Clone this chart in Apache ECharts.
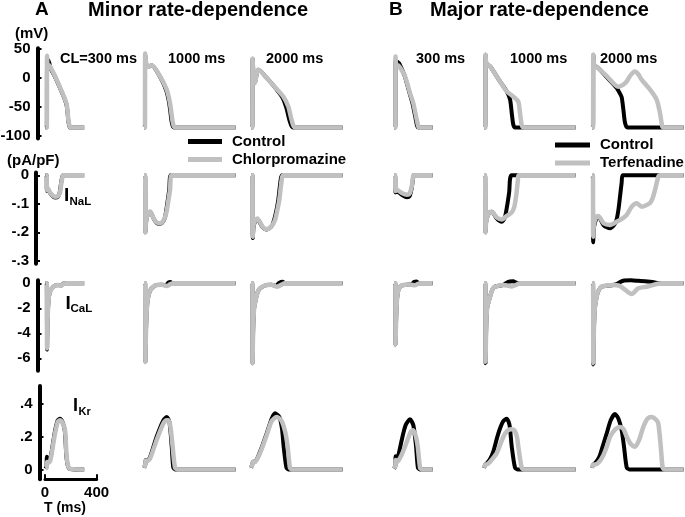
<!DOCTYPE html>
<html>
<head>
<meta charset="utf-8">
<title>Rate-dependence of drug effects</title>
<script src="https://cdn.jsdelivr.net/npm/echarts@6/dist/echarts.min.js"></script>
<style>
  html, body { margin: 0; padding: 0; background: #fff; }
  #chart { width: 685px; height: 517px; }
</style>
</head>
<body>
<div id="chart"></div>
<script>
// ---- data: [time (ms), value] ----
// action potential (mV)
const apA300Ctl = [[0,-85],[10,-85],[12,28],[20,31],[30,25],[40,16],[74,2],[126,-24],[150,-37],[164,-47],[172,-62],[177,-74],[184,-82],[190,-85],[300,-85]];
const apA300Cpz = [[0,-85],[10,-85],[12,38],[17,18],[27,22],[35,20],[74,3],[126,-23],[150,-36],[164,-45],[172,-60],[177,-72],[184,-80],[192,-85],[300,-85]];
const apA1000Ctl = [[0,-85],[7,-85],[9,40],[20,22],[39,20],[60,22],[124,2],[172,-21],[191,-38],[203,-55],[215,-76],[232,-85],[710,-85]];
const apA1000Cpz = [[0,-85],[7,-85],[9,42],[20,22],[39,20],[60,22],[124,3],[176,-20],[196,-37],[209,-54],[222,-75],[240,-85],[710,-85]];
const apA2000Ctl = [[0,-85],[10,-85],[12,33],[20,5],[31,-8],[45,8],[57,14],[122,0],[199,-20],[245,-34],[275,-52],[300,-74],[325,-85],[710,-85]];
const apA2000Cpz = [[0,-85],[10,-85],[12,33],[20,5],[31,-8],[45,8],[57,14],[122,0],[199,-19],[250,-32],[289,-49],[315,-72],[341,-85],[710,-85]];
const apB300Ctl = [[0,-85],[10,-85],[12,30],[25,28],[40,25],[55,18],[85,2],[122,-27],[145,-45],[165,-67],[180,-83],[188,-85],[300,-85]];
const apB300Tfd = [[0,-85],[10,-85],[12,37],[18,20],[30,22],[47,18],[85,3],[124,-26],[149,-43],[171,-66],[188,-83],[195,-85],[300,-85]];
const apB1000Ctl = [[0,-85],[10,-85],[12,40],[20,24],[47,20],[124,-6],[176,-23],[202,-37],[215,-60],[227,-80],[240,-85],[710,-85]];
const apB1000Tfd = [[0,-85],[10,-85],[12,40],[20,24],[47,20],[124,-6],[176,-23],[227,-32],[266,-41],[279,-60],[292,-80],[305,-85],[710,-85]];
const apB2000Ctl = [[0,-85],[8,-85],[10,40],[18,22],[49,17],[120,0],[170,-12],[191,-17],[215,-26],[230,-33],[243,-54],[256,-77],[274,-85],[710,-85]];
const apB2000Tfd = [[0,-85],[8,-85],[10,40],[18,22],[49,17],[120,2],[170,-10],[204,-15],[240,-12],[269,-6],[300,5],[333,11],[360,6],[385,-3],[450,-20],[501,-37],[527,-60],[540,-78],[550,-85],[710,-85]];

// late sodium current INaL (pA/pF)
const inalA300Ctl = [[0,0],[9,0],[11,-0.055],[18,-0.048],[35,-0.062],[74,-0.078],[95,-0.076],[110,-0.06],[120,-0.03],[130,-0.005],[138,0],[300,0]];
const inalA300Cpz = [[0,0],[9,0],[11,-0.052],[18,-0.045],[35,-0.06],[74,-0.075],[95,-0.074],[112,-0.06],[122,-0.03],[132,-0.005],[140,0],[300,0]];
const inalA1000Ctl = [[0,0],[9,0],[11,-0.2],[17,-0.16],[35,-0.13],[47,-0.128],[80,-0.156],[111,-0.17],[137,-0.168],[160,-0.152],[172,-0.125],[185,-0.085],[196,-0.05],[208,0],[710,0]];
const inalA1000Cpz = [[0,0],[9,0],[11,-0.2],[17,-0.16],[35,-0.13],[47,-0.128],[80,-0.155],[111,-0.168],[137,-0.166],[160,-0.15],[176,-0.125],[190,-0.085],[202,-0.05],[215,0],[710,0]];
const inalA2000Ctl = [[0,0],[12,0],[14,-0.22],[22,-0.175],[49,-0.153],[90,-0.182],[122,-0.19],[160,-0.178],[180,-0.155],[198,-0.12],[212,-0.085],[230,-0.016],[242,0],[710,0]];
const inalA2000Cpz = [[0,0],[12,0],[14,-0.215],[22,-0.17],[49,-0.151],[90,-0.18],[122,-0.189],[160,-0.178],[186,-0.157],[205,-0.12],[219,-0.087],[238,-0.016],[250,0],[710,0]];
const inalB300Ctl = [[0,0],[9,0],[11,-0.06],[18,-0.055],[60,-0.068],[100,-0.077],[120,-0.074],[137,-0.045],[148,-0.01],[154,0],[300,0]];
const inalB300Tfd = [[0,0],[9,0],[11,-0.055],[18,-0.05],[60,-0.062],[100,-0.068],[120,-0.065],[137,-0.04],[146,-0.01],[152,0],[300,0]];
const inalB1000Ctl = [[0,0],[9,0],[11,-0.2],[18,-0.16],[40,-0.13],[60,-0.128],[100,-0.152],[137,-0.163],[160,-0.15],[178,-0.11],[195,-0.06],[215,0],[710,0]];
const inalB1000Tfd = [[0,0],[9,0],[11,-0.2],[18,-0.16],[40,-0.13],[60,-0.128],[100,-0.148],[137,-0.155],[170,-0.145],[215,-0.13],[235,-0.11],[250,-0.07],[262,-0.02],[268,0],[710,0]];
const inalB2000Ctl = [[0,0],[7,0],[9,-0.235],[16,-0.18],[35,-0.15],[49,-0.145],[90,-0.175],[140,-0.186],[175,-0.172],[191,-0.155],[205,-0.12],[217,-0.075],[230,-0.025],[238,0],[710,0]];
const inalB2000Tfd = [[0,0],[7,0],[9,-0.215],[16,-0.17],[35,-0.145],[49,-0.143],[90,-0.168],[140,-0.174],[191,-0.163],[240,-0.15],[269,-0.139],[300,-0.115],[320,-0.104],[346,-0.098],[385,-0.11],[420,-0.105],[450,-0.097],[470,-0.08],[488,-0.052],[514,-0.005],[527,0],[710,0]];

// L-type calcium current ICaL (pA/pF)
const icalA300Ctl = [[0,0],[10,0],[12,-5.3],[16,-3],[24,-1.3],[35,-0.67],[60,-0.27],[99,-0.13],[120,-0.18],[138,-0.03],[160,0],[300,0]];
const icalA300Cpz = [[0,0],[10,0],[12,-5.2],[16,-3],[24,-1.3],[35,-0.67],[60,-0.27],[99,-0.13],[120,-0.2],[138,-0.05],[164,0],[300,0]];
const icalA1000Ctl = [[0,0],[9,0],[11,-6.3],[15,-4],[22,-2],[33,-1.07],[45,-0.65],[60,-0.4],[98,-0.13],[140,-0.12],[170,-0.15],[190,0.08],[205,0.1],[220,0],[710,0]];
const icalA1000Cpz = [[0,0],[9,0],[11,-6.3],[15,-4],[22,-2],[33,-1.07],[45,-0.65],[60,-0.4],[98,-0.13],[140,-0.12],[176,-0.22],[202,-0.08],[227,0],[710,0]];
const icalA2000Ctl = [[0,0],[10,0],[12,-6.4],[16,-4],[24,-2],[39,-1.2],[52,-0.7],[70,-0.4],[122,-0.13],[160,-0.12],[190,-0.2],[220,0.05],[246,0.12],[260,0],[710,0]];
const icalA2000Cpz = [[0,0],[10,0],[12,-6.4],[16,-4],[24,-2],[39,-1.2],[52,-0.7],[70,-0.4],[122,-0.13],[160,-0.12],[199,-0.27],[230,-0.15],[264,0],[710,0]];
const icalB300Ctl = [[0,0],[10,0],[12,-4.9],[16,-3],[24,-1.2],[34,-0.53],[50,-0.25],[73,-0.13],[110,-0.1],[137,-0.08],[155,0.1],[175,0.15],[192,0],[300,0]];
const icalB300Tfd = [[0,0],[10,0],[12,-4.9],[16,-3],[24,-1.2],[34,-0.53],[50,-0.25],[73,-0.13],[110,-0.1],[137,-0.12],[160,-0.15],[185,-0.05],[202,0],[300,0]];
const icalB1000Ctl = [[0,0],[10,0],[12,-6.4],[16,-4],[24,-2],[47,-1.07],[65,-0.5],[85,-0.27],[150,-0.13],[175,0.05],[200,0.15],[225,0.16],[250,0.05],[262,0],[710,0]];
const icalB1000Tfd = [[0,0],[10,0],[12,-6.3],[16,-4],[24,-2],[47,-1.07],[65,-0.5],[85,-0.27],[150,-0.13],[190,-0.2],[215,-0.25],[250,-0.12],[279,0],[710,0]];
const icalB2000Ctl = [[0,0],[8,0],[10,-6.5],[14,-4],[22,-2],[36,-1.07],[50,-0.6],[75,-0.27],[165,-0.13],[195,-0.05],[217,0.1],[250,0.22],[300,0.24],[360,0.2],[430,0.15],[480,0.08],[510,0.02],[530,0],[710,0]];
const icalB2000Tfd = [[0,0],[8,0],[10,-6.4],[14,-4],[22,-2],[36,-1.07],[50,-0.6],[75,-0.27],[165,-0.13],[210,-0.18],[243,-0.4],[308,-0.86],[359,-0.4],[424,-0.27],[470,-0.15],[502,-0.05],[540,0],[710,0]];

// rapid delayed rectifier IKr (pA/pF)
const ikrA300Ctl = [[0,0.005],[8,0.02],[10,0.078],[14,0.06],[22,0.05],[35,0.06],[48,0.11],[74,0.235],[95,0.3],[112,0.31],[132,0.29],[149,0.24],[156,0.16],[162,0.077],[175,0.017],[190,0.003],[300,0]];
const ikrA300Cpz = [[0,0.005],[9,0.01],[12,0.045],[20,0.04],[35,0.05],[48,0.098],[74,0.22],[95,0.29],[112,0.3],[132,0.285],[151,0.24],[158,0.16],[164,0.077],[177,0.017],[195,0.003],[300,0]];
const ikrA1000Ctl = [[0,0.01],[10,0.03],[13,0.057],[22,0.052],[47,0.075],[98,0.2],[150,0.3],[176,0.32],[197,0.29],[215,0.14],[227,0.012],[245,0],[710,0]];
const ikrA1000Cpz = [[0,0.01],[10,0.03],[13,0.055],[22,0.05],[47,0.067],[98,0.18],[150,0.28],[175,0.3],[189,0.3],[205,0.26],[222,0.14],[240,0.012],[260,0],[710,0]];
const ikrA2000Ctl = [[0,0.01],[10,0.03],[16,0.046],[30,0.046],[70,0.108],[122,0.22],[160,0.31],[186,0.343],[220,0.32],[240,0.25],[253,0.14],[274,0.012],[290,0],[710,0]];
const ikrA2000Cpz = [[0,0.01],[10,0.03],[16,0.046],[30,0.045],[70,0.1],[122,0.21],[160,0.295],[199,0.32],[235,0.3],[265,0.23],[284,0.14],[302,0.01],[320,0],[710,0]];
const ikrB300Ctl = [[0,0.005],[10,0.02],[13,0.08],[20,0.065],[35,0.09],[60,0.18],[90,0.27],[124,0.306],[150,0.27],[171,0.14],[185,0.012],[200,0],[300,0]];
const ikrB300Tfd = [[0,0.005],[10,0.02],[13,0.057],[20,0.045],[35,0.055],[60,0.09],[95,0.16],[130,0.23],[149,0.24],[170,0.2],[184,0.14],[202,0.01],[215,0],[300,0]];
const ikrB1000Ctl = [[0,0.01],[10,0.03],[20,0.035],[45,0.06],[72,0.108],[100,0.19],[124,0.25],[150,0.295],[176,0.31],[198,0.27],[215,0.14],[240,0.012],[260,0],[710,0]];
const ikrB1000Tfd = [[0,0.01],[10,0.03],[20,0.03],[45,0.045],[72,0.07],[98,0.098],[125,0.15],[150,0.2],[180,0.235],[210,0.245],[235,0.24],[255,0.2],[266,0.14],[292,0.01],[310,0],[710,0]];
const ikrB2000Ctl = [[0,0.01],[10,0.03],[25,0.04],[45,0.06],[62,0.087],[90,0.16],[114,0.22],[145,0.3],[178,0.338],[205,0.31],[230,0.24],[248,0.14],[269,0.012],[290,0],[710,0]];
const ikrB2000Tfd = [[0,0.01],[10,0.03],[25,0.03],[55,0.045],[88,0.087],[115,0.14],[140,0.2],[180,0.245],[217,0.26],[245,0.245],[269,0.2],[300,0.155],[333,0.138],[365,0.18],[398,0.26],[430,0.31],[463,0.32],[495,0.305],[514,0.28],[533,0.14],[548,0.01],[565,0],[710,0]];

const panelLabels = ["CL=300 ms", "1000 ms", "2000 ms", "300 ms", "1000 ms", "2000 ms"];
const panelWindows = [300, 710, 710, 300, 710, 710]; // ms shown per panel
const drugNames = ["Chlorpromazine", "Chlorpromazine", "Chlorpromazine", "Terfenadine", "Terfenadine", "Terfenadine"];
const vmTicks = [50, 0, -50, -100];
const inalTicks = [0, -0.1, -0.2, -0.3];
const icalTicks = [0, -2, -4, -6];
const ikrTicks = [0, 0.2, 0.4];
const scaleTicks = [0, 400];

const controlRows = [
  [apA300Ctl, apA1000Ctl, apA2000Ctl, apB300Ctl, apB1000Ctl, apB2000Ctl],
  [inalA300Ctl, inalA1000Ctl, inalA2000Ctl, inalB300Ctl, inalB1000Ctl, inalB2000Ctl],
  [icalA300Ctl, icalA1000Ctl, icalA2000Ctl, icalB300Ctl, icalB1000Ctl, icalB2000Ctl],
  [ikrA300Ctl, ikrA1000Ctl, ikrA2000Ctl, ikrB300Ctl, ikrB1000Ctl, ikrB2000Ctl],
];
const drugRows = [
  [apA300Cpz, apA1000Cpz, apA2000Cpz, apB300Tfd, apB1000Tfd, apB2000Tfd],
  [inalA300Cpz, inalA1000Cpz, inalA2000Cpz, inalB300Tfd, inalB1000Tfd, inalB2000Tfd],
  [icalA300Cpz, icalA1000Cpz, icalA2000Cpz, icalB300Tfd, icalB1000Tfd, icalB2000Tfd],
  [ikrA300Cpz, ikrA1000Cpz, ikrA2000Cpz, ikrB300Tfd, ikrB1000Tfd, ikrB2000Tfd],
];

// ---- layout ----
const FONT = "'Liberation Sans', Arial, sans-serif";
const BLACK = "#000";
const GRAY = "#c0c0c0";
const PX_PER_MS = 0.129;
const PANEL_LEFT = [45.5, 144, 251, 394, 484, 592];
const ROWS = [
  { top: 48.3, height: 90.2, min: -104, max: 51, axisX: 37.5, ticks: vmTicks },
  { top: 172.5, height: 91.2, min: -0.31, max: 0.01, axisX: 36, ticks: inalTicks },
  { top: 280.2, height: 90.6, min: -7, max: 0.25, axisX: 37.5, ticks: icalTicks },
  { top: 386, height: 93.2, min: -0.06, max: 0.51, axisX: 39.5, ticks: ikrTicks },
];

const tickFormat = (v) => (v === 0 ? "0" : String(v).replace(/^(-?)0\./, "$1."));
const boldText = (size) => ({ fontSize: size, fontWeight: "bold", fontFamily: FONT, color: BLACK });

const grid = [];
const xAxis = [];
const yAxis = [];
const series = [];

ROWS.forEach((row, r) => {
  PANEL_LEFT.forEach((left, c) => {
    const idx = r * 6 + c;
    grid.push({
      left: left,
      top: row.top,
      width: panelWindows[c] * PX_PER_MS,
      height: row.height,
      outerBoundsMode: "none",
    });
    xAxis.push({ gridIndex: idx, type: "value", min: 0, max: panelWindows[c], show: false });
    if (c === 0) {
      yAxis.push({
        gridIndex: idx,
        type: "value",
        min: row.min,
        max: row.max,
        position: "left",
        offset: left - row.axisX,
        axisLine: { show: true, onZero: false, lineStyle: { color: BLACK, width: 4 } },
        axisTick: { show: true, inside: true, length: 4, customValues: row.ticks, lineStyle: { color: BLACK, width: 2 } },
        axisLabel: Object.assign({ customValues: row.ticks, formatter: tickFormat, margin: 7 }, boldText(15)),
        splitLine: { show: false },
      });
    } else {
      yAxis.push({ gridIndex: idx, type: "value", min: row.min, max: row.max, show: false });
    }
    const common = {
      type: "line",
      xAxisIndex: idx,
      yAxisIndex: idx,
      showSymbol: false,
      symbol: "none",
      smooth: 0.25,
      clip: false,
      silent: true,
    };
    series.push(Object.assign({}, common, {
      name: "Control",
      data: controlRows[r][c],
      color: BLACK,
      lineStyle: { color: BLACK, width: 4 },
      z: 2,
    }));
    series.push(Object.assign({}, common, {
      name: drugNames[c],
      data: drugRows[r][c],
      color: GRAY,
      lineStyle: { color: GRAY, width: 4.5 },
      z: 3,
    }));
  });
});

// time scale bar (0-400 ms)
grid.push({ left: 45, top: 470, width: 400 * PX_PER_MS, height: 9.3, outerBoundsMode: "none" });
xAxis.push({
  gridIndex: 24,
  type: "value",
  min: scaleTicks[0],
  max: scaleTicks[1],
  interval: scaleTicks[1] - scaleTicks[0],
  position: "bottom",
  axisLine: { show: true, onZero: false, lineStyle: { color: BLACK, width: 3 } },
  axisTick: { show: true, inside: true, length: 5, lineStyle: { color: BLACK, width: 2 } },
  axisLabel: Object.assign({ margin: 6 }, boldText(15)),
  splitLine: { show: false },
});
yAxis.push({ gridIndex: 24, type: "value", min: 0, max: 1, show: false });

const text = (x, y, str, size) => ({
  type: "text",
  x: x,
  y: y,
  silent: true,
  style: { text: str, font: "bold " + size + "px " + FONT, fill: BLACK, align: "left", verticalAlign: "middle" },
});

const graphic = [
  text(35, 10, "A", 19),
  text(88, 10, "Minor rate-dependence", 20),
  text(389, 10, "B", 19),
  text(430, 10, "Major rate-dependence", 20),
  text(15, 34, "(mV)", 15),
  text(7, 161, "(pA/pF)", 15),
  text(64, 196, "I", 19),
  text(69.5, 202, "NaL", 11.5),
  text(65.5, 304, "I", 19),
  text(70.5, 308.5, "CaL", 11.5),
  text(73, 406.5, "I", 18),
  text(78.5, 411.5, "Kr", 11),
  text(44, 508, "T (ms)", 14),
];
const labelX = [60, 168, 266, 416, 510, 600];
panelLabels.forEach((s, i) => graphic.push(text(labelX[i], 59, s, 14.5)));

const legendBase = {
  orient: "vertical",
  icon: "rect",
  itemHeight: 5,
  itemGap: 3,
  padding: 0,
  selectedMode: false,
  textStyle: Object.assign({ lineHeight: 15, padding: [0, 0, 0, 5] }, boldText(15)),
};

const chart = echarts.init(document.getElementById("chart"));
chart.setOption({
  animation: false,
  backgroundColor: "#fff",
  grid: grid,
  xAxis: xAxis,
  yAxis: yAxis,
  series: series,
  graphic: graphic,
  legend: [
    Object.assign({}, legendBase, { data: ["Control", "Chlorpromazine"], left: 188, top: 134, itemWidth: 34 }),
    Object.assign({}, legendBase, { data: ["Control", "Terfenadine"], left: 555, top: 137.5, itemWidth: 35 }),
  ],
});
</script>
</body>
</html>
